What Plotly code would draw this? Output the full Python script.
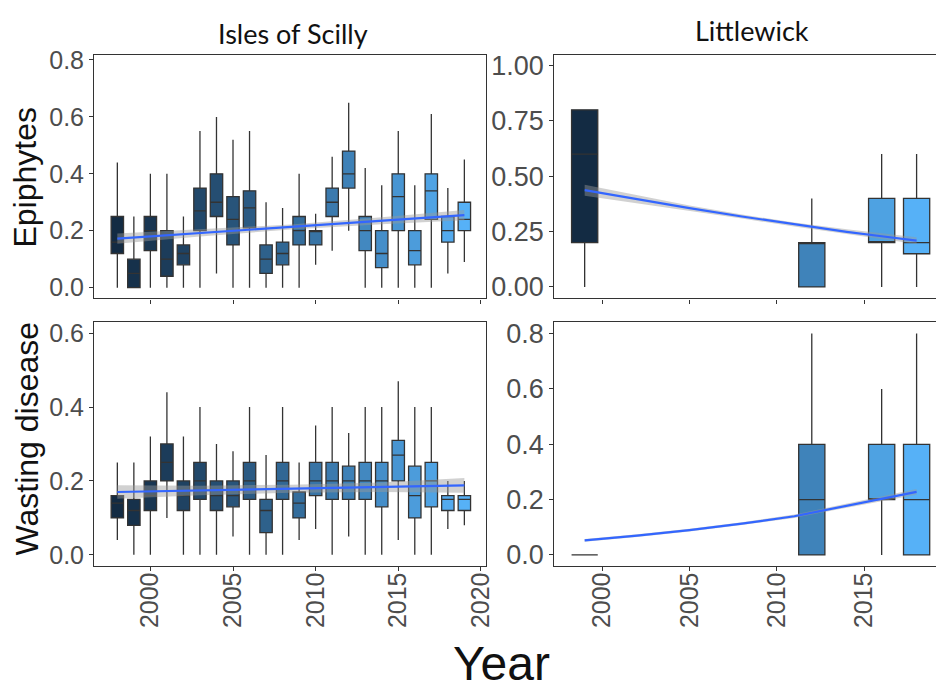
import plotly.graph_objects as go

# ---------------- data ----------------
isles_years = list(range(1998, 2020))
# Isles of Scilly - Epiphytes
isl_epi_low = [0, 0, 0, 0, 0, 0, 0.05, 0, 0, 0, 0, 0, 0.08, 0.13, 0.20, 0, 0, 0, 0, 0, 0.05, 0.09]
isl_epi_q1 = [0.12, 0, 0.13, 0.04, 0.08, 0.20, 0.25, 0.15, 0.21, 0.05, 0.08, 0.15, 0.15, 0.25, 0.35, 0.13, 0.07, 0.20, 0.08, 0.24, 0.16, 0.20]
isl_epi_med = [0.16, 0.05, 0.20, 0.10, 0.12, 0.27, 0.30, 0.24, 0.28, 0.10, 0.12, 0.20, 0.20, 0.30, 0.40, 0.20, 0.12, 0.32, 0.13, 0.34, 0.20, 0.24]
isl_epi_q3 = [0.25, 0.10, 0.25, 0.20, 0.15, 0.35, 0.40, 0.32, 0.34, 0.15, 0.16, 0.25, 0.20, 0.35, 0.48, 0.25, 0.20, 0.40, 0.20, 0.40, 0.25, 0.30]
isl_epi_up = [0.44, 0.25, 0.40, 0.40, 0.25, 0.55, 0.60, 0.52, 0.55, 0.30, 0.28, 0.40, 0.26, 0.46, 0.65, 0.42, 0.36, 0.55, 0.36, 0.61, 0.35, 0.45]

# Isles of Scilly - Wasting disease
isl_was_low = [0.04, 0, 0, 0.10, 0, 0, 0, 0.05, 0, 0, 0, 0.04, 0.07, 0, 0.05, 0, 0, 0.04, 0, 0, 0.07, 0.08]
isl_was_q1 = [0.10, 0.08, 0.12, 0.20, 0.12, 0.15, 0.12, 0.13, 0.15, 0.06, 0.15, 0.10, 0.16, 0.15, 0.15, 0.15, 0.13, 0.20, 0.10, 0.13, 0.12, 0.12]
isl_was_med = [0.14, 0.12, 0.16, 0.25, 0.16, 0.20, 0.16, 0.16, 0.20, 0.12, 0.20, 0.14, 0.20, 0.20, 0.20, 0.20, 0.20, 0.27, 0.16, 0.20, 0.15, 0.15]
isl_was_q3 = [0.16, 0.15, 0.20, 0.30, 0.20, 0.25, 0.20, 0.20, 0.25, 0.15, 0.25, 0.17, 0.25, 0.25, 0.24, 0.25, 0.25, 0.31, 0.24, 0.25, 0.16, 0.16]
isl_was_up = [0.25, 0.25, 0.32, 0.44, 0.32, 0.40, 0.30, 0.28, 0.40, 0.27, 0.40, 0.25, 0.35, 0.40, 0.33, 0.40, 0.40, 0.47, 0.40, 0.40, 0.20, 0.20]

lw_years = [1999, 2012, 2016, 2018]
# Littlewick - Epiphytes
lw_epi_low = [0, 0, 0, 0]
lw_epi_q1 = [0.20, 0, 0.20, 0.15]
lw_epi_med = [0.60, 0.20, 0.20, 0.20]
lw_epi_q3 = [0.80, 0.20, 0.40, 0.40]
lw_epi_up = [0.80, 0.40, 0.60, 0.60]
# Littlewick - Wasting disease
lw_was_low = [0, 0, 0, 0]
lw_was_q1 = [0, 0, 0.20, 0]
lw_was_med = [0, 0.20, 0.20, 0.20]
lw_was_q3 = [0, 0.40, 0.40, 0.40]
lw_was_up = [0, 0.80, 0.60, 0.80]

# smoothed trends with confidence band
isl_trend_x = [1998, 2003, 2008.5, 2014, 2019]
isl_epi_fit = [0.172, 0.192, 0.213, 0.235, 0.255]
isl_epi_se = [0.018, 0.012, 0.009, 0.012, 0.018]
isl_was_fit = [0.170, 0.174, 0.179, 0.183, 0.188]
isl_was_se = [0.018, 0.013, 0.011, 0.013, 0.020]

lw_trend_x = [1999, 2002, 2005, 2008, 2011, 2014, 2016, 2018]
lw_epi_fit = [0.437, 0.396, 0.356, 0.318, 0.282, 0.249, 0.229, 0.209]
lw_epi_se = [0.025, 0.018, 0.012, 0.009, 0.009, 0.011, 0.013, 0.015]
lw_was_fit = [0.053, 0.070, 0.090, 0.113, 0.140, 0.178, 0.203, 0.228]
lw_was_se = [0.005, 0.005, 0.005, 0.005, 0.006, 0.007, 0.008, 0.010]

LOW_COL = "#132B43"
HIGH_COL = "#56B1F7"


# ---------------- colour helpers (Lab interpolation like ggplot) ----------------
def _hex2rgb(h):
    h = h.lstrip("#")
    return [int(h[i:i + 2], 16) / 255 for i in (0, 2, 4)]


def _lin(c):
    return c / 12.92 if c <= 0.04045 else ((c + 0.055) / 1.055) ** 2.4


def _delin(c):
    c = max(0.0, min(1.0, c))
    return 12.92 * c if c <= 0.0031308 else 1.055 * c ** (1 / 2.4) - 0.055


def _rgb2lab(rgb):
    r, g, b = [_lin(c) for c in rgb]
    x = (0.4124 * r + 0.3576 * g + 0.1805 * b) / 0.95047
    y = (0.2126 * r + 0.7152 * g + 0.0722 * b) / 1.0
    z = (0.0193 * r + 0.1192 * g + 0.9505 * b) / 1.08883

    def f(t):
        return t ** (1 / 3) if t > 0.008856 else 7.787 * t + 16 / 116

    fx, fy, fz = f(x), f(y), f(z)
    return [116 * fy - 16, 500 * (fx - fy), 200 * (fy - fz)]


def _lab2rgb(lab):
    L, a, b = lab
    fy = (L + 16) / 116
    fx = fy + a / 500
    fz = fy - b / 200

    def finv(t):
        return t ** 3 if t ** 3 > 0.008856 else (t - 16 / 116) / 7.787

    x, y, z = finv(fx) * 0.95047, finv(fy), finv(fz) * 1.08883
    r = 3.2406 * x - 1.5372 * y - 0.4986 * z
    g = -0.9689 * x + 1.8758 * y + 0.0415 * z
    bb = 0.0557 * x - 0.2040 * y + 1.0570 * z
    return "#%02x%02x%02x" % tuple(int(round(_delin(c) * 255)) for c in (r, g, bb))


def grad(v, vmin, vmax):
    t = (v - vmin) / (vmax - vmin)
    l1, l2 = _rgb2lab(_hex2rgb(LOW_COL)), _rgb2lab(_hex2rgb(HIGH_COL))
    return _lab2rgb([l1[i] + t * (l2[i] - l1[i]) for i in range(3)])


# ---------------- figure ----------------
fig = go.Figure()

W, H = 944, 691
xl = [95 / W, 490 / W]
xr = [559 / W, 1.0]
yt = [1 - 295 / H, 1 - 47 / H]
yb = [1 - 568 / H, 1 - 319 / H]

panels = [
    # (xaxis, yaxis, years, low, q1, med, q3, up, width, fit_x, fit, se)
    ("x", "y", isles_years, isl_epi_low, isl_epi_q1, isl_epi_med, isl_epi_q3, isl_epi_up, 0.75, isl_trend_x, isl_epi_fit, isl_epi_se),
    ("x2", "y2", lw_years, lw_epi_low, lw_epi_q1, lw_epi_med, lw_epi_q3, lw_epi_up, 1.5, lw_trend_x, lw_epi_fit, lw_epi_se),
    ("x3", "y3", isles_years, isl_was_low, isl_was_q1, isl_was_med, isl_was_q3, isl_was_up, 0.75, isl_trend_x, isl_was_fit, isl_was_se),
    ("x4", "y4", lw_years, lw_was_low, lw_was_q1, lw_was_med, lw_was_q3, lw_was_up, 1.5, lw_trend_x, lw_was_fit, lw_was_se),
]

for xa, ya, yrs, lo, q1, md, q3, up, wd, fx, fit, se in panels:
    vmin, vmax = min(yrs), max(yrs)
    for i, yr in enumerate(yrs):
        fig.add_trace(go.Box(
            x=[yr], q1=[q1[i]], median=[md[i]], q3=[q3[i]],
            lowerfence=[lo[i]], upperfence=[up[i]],
            width=wd, whiskerwidth=0,
            fillcolor=grad(yr, vmin, vmax),
            line=dict(color="#333333", width=1.3),
            boxpoints=False, showlegend=False,
            xaxis=xa, yaxis=ya, hoverinfo="skip",
        ))
    upper = [f + s for f, s in zip(fit, se)]
    lower = [f - s for f, s in zip(fit, se)]
    fig.add_trace(go.Scatter(
        x=fx + fx[::-1], y=upper + lower[::-1], fill="toself",
        fillcolor="rgba(153,153,153,0.45)", line=dict(width=0),
        mode="lines", showlegend=False, xaxis=xa, yaxis=ya, hoverinfo="skip",
    ))
    fig.add_trace(go.Scatter(
        x=fx, y=fit, mode="lines", line=dict(color="#3366FF", width=2.2),
        showlegend=False, xaxis=xa, yaxis=ya, hoverinfo="skip",
    ))

tickfont_l = dict(family="Liberation Sans, Arial, sans-serif", size=25, color="#4D4D4D")
tickfont_r = dict(family="Liberation Sans, Arial, sans-serif", size=27, color="#4D4D4D")
common_axis = dict(showline=True, linecolor="#333333", linewidth=1.3, ticks="outside",
                   ticklen=4, tickcolor="#333333", tickwidth=1, showgrid=False, zeroline=False)

fig.update_layout(
    width=W, height=H, margin=dict(l=0, r=0, t=0, b=0),
    paper_bgcolor="white", plot_bgcolor="white", boxmode="overlay",
    xaxis=dict(domain=xl, anchor="y", range=[1996.6, 2020.3], tickvals=[2000, 2005, 2010, 2015, 2020],
               showticklabels=False, mirror=True, **common_axis),
    yaxis=dict(domain=yt, anchor="x", range=[-0.038, 0.817], tickvals=[0, 0.2, 0.4, 0.6, 0.8],
               tickformat=".1f", tickfont=tickfont_l, mirror=True, **common_axis),
    xaxis2=dict(domain=xr, anchor="y2", range=[1997.26, 2019.11], tickvals=[2000, 2005, 2010, 2015],
                showticklabels=False, mirror=True, **common_axis),
    yaxis2=dict(domain=yt, anchor="x2", range=[-0.052, 1.047], tickvals=[0, 0.25, 0.5, 0.75, 1.0],
                tickformat=".2f", tickfont=tickfont_r, mirror=False, **common_axis),
    xaxis3=dict(domain=xl, anchor="y3", range=[1996.6, 2020.3], tickvals=[2000, 2005, 2010, 2015, 2020],
                tickangle=-90, tickfont=tickfont_l, mirror=True, ticklabelstandoff=-9, **common_axis),
    yaxis3=dict(domain=yb, anchor="x3", range=[-0.031, 0.63], tickvals=[0, 0.2, 0.4, 0.6],
                tickformat=".1f", tickfont=tickfont_l, mirror=True, **common_axis),
    xaxis4=dict(domain=xr, anchor="y4", range=[1997.26, 2019.11], tickvals=[2000, 2005, 2010, 2015],
                tickangle=-90, tickfont=tickfont_l, mirror=True, ticklabelstandoff=-9, **common_axis),
    yaxis4=dict(domain=yb, anchor="x4", range=[-0.041, 0.842], tickvals=[0, 0.2, 0.4, 0.6, 0.8],
                tickformat=".1f", tickfont=tickfont_r, mirror=False, **common_axis),
)

ann_font_title = dict(family="Lato, Open Sans, sans-serif", size=27, color="#111111")
ann_font_axis = dict(family="Liberation Sans, Arial, sans-serif", size=32, color="#111111")
annotations = [
    dict(text="Isles of Scilly", x=296 / W, y=1 - 25 / H, font=ann_font_title, textangle=0),
    dict(text="Littlewick", x=758 / W, y=1 - 22 / H, font=ann_font_title, textangle=0),
    dict(text="Epiphytes", x=25 / W, y=1 - 171 / H, font=ann_font_axis, textangle=-90),
    dict(text="Wasting disease", x=27 / W, y=1 - 438 / H, font=ann_font_axis, textangle=-90),
    dict(text="Year", x=506 / W, y=1 - 667 / H,
         font=dict(family="Liberation Sans Narrow, Liberation Sans, Arial, sans-serif", size=48, color="#111111"),
         textangle=0),
]
for a in annotations:
    fig.add_annotation(xref="paper", yref="paper", xanchor="center", yanchor="middle",
                       showarrow=False, **a)

fig.write_html("out.html")
